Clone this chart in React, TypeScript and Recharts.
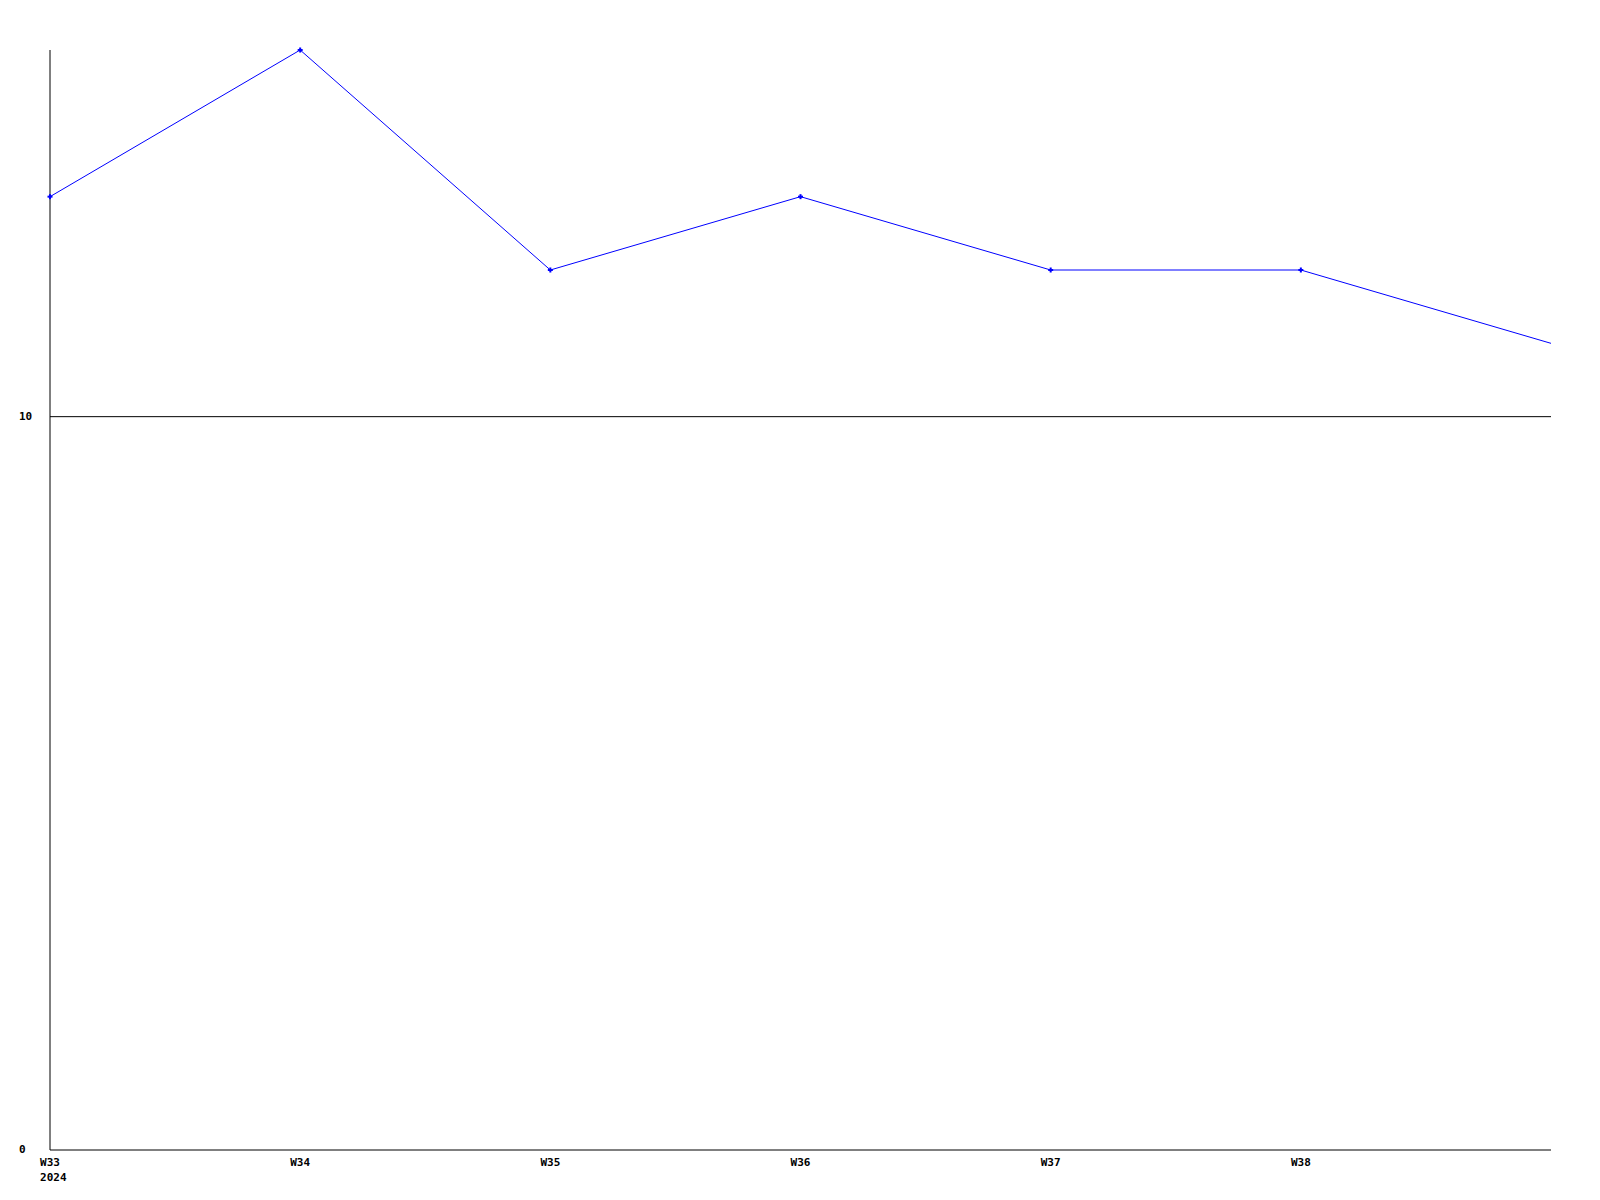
import { LineChart, Line, XAxis, YAxis, ReferenceLine } from 'recharts';

/* ── Data ─────────────────────────────────────────────────────────────────── */

// the last point sits on the right edge and has no label of its own
const weeks = ['W33', 'W34', 'W35', 'W36', 'W37', 'W38', 'W39'];
const weekLabels = ['W33', 'W34', 'W35', 'W36', 'W37', 'W38'];
const counts = [13, 15, 12, 13, 12, 12, 11];
const yTicks = [0, 10];
const yearLabel = '2024';

const data = weeks.map((week, i) => ({ week, count: counts[i] }));

const FONT = '"DejaVu Sans Mono", "Liberation Mono", monospace';

/* ── Pieces ───────────────────────────────────────────────────────────────── */

function WeekTick({ x, y, index }: { x?: number; y?: number; index?: number }) {
  const i = index ?? 0;
  const label = weekLabels[i];
  if (!label) return null;
  const left = (x ?? 0) - (label.length * 6.6) / 2;
  return (
    <g fontFamily={FONT} fontSize={11} fontWeight="bold" fill="#000">
      <text x={x} y={(y ?? 0) + 14} textAnchor="middle">
        {label}
      </text>
      {i === 0 && (
        <text x={left} y={(y ?? 0) + 29} textAnchor="start">
          {yearLabel}
        </text>
      )}
    </g>
  );
}

// value labels are left-aligned in the gutter
function CountTick({ y, payload }: { y?: number; payload?: { value: number } }) {
  return (
    <text x={19} y={(y ?? 0) + 3} textAnchor="start" fontFamily={FONT} fontSize={11} fontWeight="bold" fill="#000">
      {payload?.value}
    </text>
  );
}

function PlusDot({ cx, cy, index }: { cx?: number; cy?: number; index?: number }) {
  if (cx == null || cy == null) return null;
  // the right-edge point carries no marker
  if (index === counts.length - 1) return null;
  return (
    <g fill="#0000ff">
      <rect x={cx - 2.5} y={cy - 1} width={5} height={2} />
      <rect x={cx - 1} y={cy - 2.5} width={2} height={5} />
    </g>
  );
}

/* ── Component ────────────────────────────────────────────────────────────── */

export default function App() {
  return (
    <div style={{ position: 'absolute', left: 0, top: 0, width: 1600, height: 1200, background: '#fff' }}>
      <LineChart width={1600} height={1200} data={data} margin={{ top: 50, right: 49, bottom: 0, left: 0 }}>
        <XAxis
          dataKey="week"
          height={50}
          tickSize={0}
          tickLine={false}
          axisLine={{ stroke: '#000', strokeWidth: 1 }}
          tick={<WeekTick />}
          interval={0}
        />
        <YAxis
          width={50}
          domain={[0, 15]}
          ticks={yTicks}
          tickSize={0}
          tickLine={false}
          axisLine={{ stroke: '#000', strokeWidth: 1 }}
          tick={<CountTick />}
        />
        <ReferenceLine y={yTicks[1]} stroke="#000" strokeWidth={1} />
        <Line
          type="linear"
          dataKey="count"
          stroke="#0000ff"
          strokeWidth={1}
          dot={<PlusDot />}
          activeDot={false}
          isAnimationActive={false}
        />
      </LineChart>
    </div>
  );
}
